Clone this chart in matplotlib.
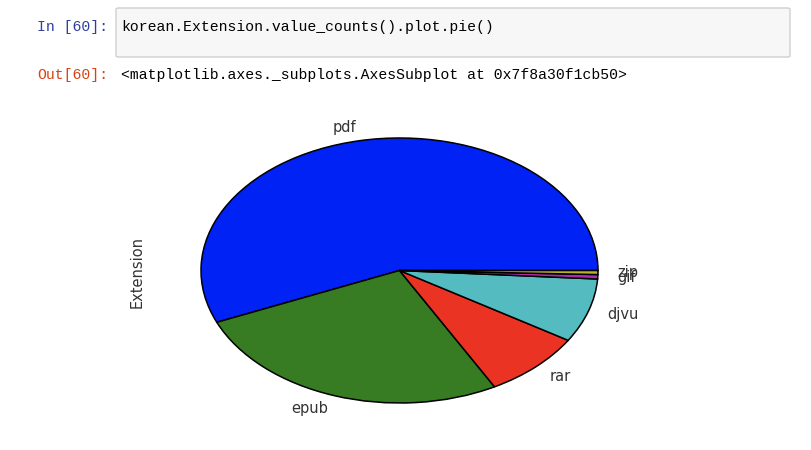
import matplotlib
matplotlib.use("Agg")
import matplotlib.pyplot as plt
from matplotlib.patches import FancyBboxPatch

extensions = ["pdf", "epub", "rar", "djvu", "gif", "zip"]
counts = [1270, 598, 185, 176, 12, 11]
colors = ["#0022F5", "#377C22", "#EB3324", "#54BBC0", "#B02AB0", "#B8B232"]

code_text = "korean.Extension.value_counts().plot.pie()"
out_text = "<matplotlib.axes._subplots.AxesSubplot at 0x7f8a30f1cb50>"

W, H = 812, 450
fig = plt.figure(figsize=(W / 100, H / 100), dpi=100)
fig.patch.set_facecolor("white")

def fx(px):
    return px / W

def fy(py):
    return 1 - py / H

# code cell box
box = FancyBboxPatch((fx(116), fy(57)), fx(790) - fx(116), fy(8) - fy(57),
                     boxstyle="round,pad=0,rounding_size=0.003",
                     transform=fig.transFigure, facecolor="#F7F7F7",
                     edgecolor="#CFCFCF", linewidth=1)
fig.patches.append(box)

mono = ["Liberation Mono", "DejaVu Sans Mono"]
fig.text(fx(37), fy(27), "In [60]:", color="#303F9F", family=mono,
         fontsize=10.6, va="center", ha="left")
fig.text(fx(121), fy(27), code_text, color="#000000", family=mono,
         fontsize=10.6, va="center", ha="left")
fig.text(fx(37), fy(75), "Out[60]:", color="#D84315", family=mono,
         fontsize=10.6, va="center", ha="left")
fig.text(fx(121), fy(75), out_text, color="#000000", family=mono,
         fontsize=10.6, va="center", ha="left")

# pie axes
left, right, top, bottom = 201, 598, 138, 403
ax = fig.add_axes([fx(left), fy(bottom), fx(right) - fx(left), fy(top) - fy(bottom)])
wedges, texts = ax.pie(counts, labels=extensions, colors=colors,
                       wedgeprops=dict(edgecolor="black", linewidth=1.1),
                       textprops=dict(fontsize=10.5, color="#333333",
                                      family="DejaVu Sans"))
ax.set_aspect("auto")
ax.set_xlim(-1, 1)
ax.set_ylim(-1, 1)
ax.set_frame_on(False)
ax.set_xticks([])
ax.set_yticks([])

fig.text(fx(137), fy(272), "Extension", rotation=90, fontsize=10.5,
         color="#333333", va="center", ha="center", family="DejaVu Sans")

fig.savefig("out.png", dpi=100, facecolor="white")
